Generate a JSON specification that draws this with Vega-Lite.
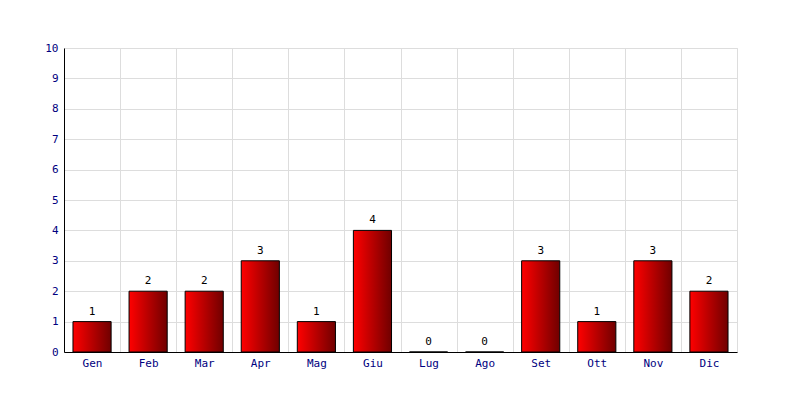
{
  "$schema": "https://vega.github.io/schema/vega-lite/v6.json",
  "width": 673,
  "height": 304,
  "autosize": "none",
  "padding": {"left": 64, "top": 48, "right": 63, "bottom": 48},
  "background": "#ffffff",
  "config": {
    "view": {"stroke": "#dddddd"},
    "font": "DejaVu Sans Mono",
    "axis": {
      "labelFont": "DejaVu Sans Mono",
      "labelFontSize": 11,
      "labelColor": "#000080",
      "gridColor": "#dddddd",
      "gridOpacity": 1,
      "domainColor": "#000000",
      "ticks": false,
      "title": null
    }
  },
  "data": {
    "values": [
      {"mese": "Gen", "valore": 1},
      {"mese": "Feb", "valore": 2},
      {"mese": "Mar", "valore": 2},
      {"mese": "Apr", "valore": 3},
      {"mese": "Mag", "valore": 1},
      {"mese": "Giu", "valore": 4},
      {"mese": "Lug", "valore": 0},
      {"mese": "Ago", "valore": 0},
      {"mese": "Set", "valore": 3},
      {"mese": "Ott", "valore": 1},
      {"mese": "Nov", "valore": 3},
      {"mese": "Dic", "valore": 2}
    ]
  },
  "encoding": {
    "x": {
      "field": "mese",
      "type": "nominal",
      "sort": null,
      "scale": {"paddingInner": 0, "paddingOuter": 0},
      "axis": {"labelAngle": 0, "tickBand": "extent", "grid": true, "labelPadding": 5, "domainWidth": 1}
    },
    "y": {
      "field": "valore",
      "type": "quantitative",
      "scale": {"domain": [0, 10]},
      "axis": {"values": [0,1,2,3,4,5,6,7,8,9,10], "labelPadding": 6, "grid": true}
    }
  },
  "layer": [
    {
      "mark": {
        "type": "bar",
        "width": {"band": 0.68},
        "stroke": "#000000",
        "strokeWidth": 1,
        "color": {
          "gradient": "linear",
          "x1": 0, "y1": 0, "x2": 1, "y2": 0,
          "stops": [
            {"offset": 0, "color": "#ff0000"},
            {"offset": 1, "color": "#700000"}
          ]
        }
      }
    },
    {
      "mark": {"type": "text", "baseline": "bottom", "dy": -5, "font": "DejaVu Sans Mono", "fontSize": 11, "color": "#000000"},
      "encoding": {"text": {"field": "valore", "type": "quantitative"}}
    }
  ]
}
